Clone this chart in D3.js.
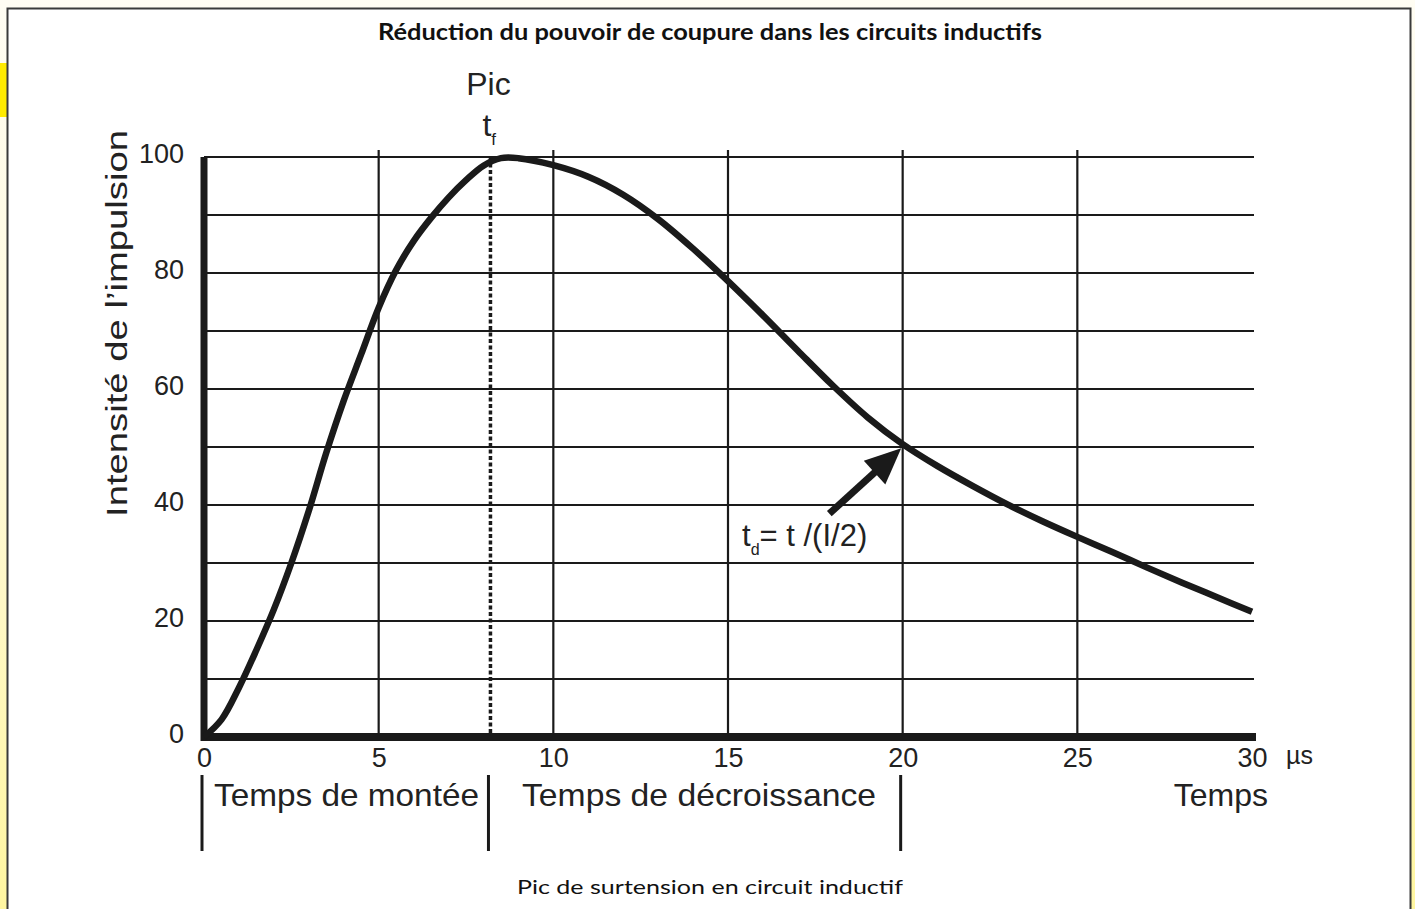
<!DOCTYPE html>
<html><head><meta charset="utf-8">
<script src="https://cdn.jsdelivr.net/npm/d3@7"></script>
<style>html,body{margin:0;padding:0;background:#fff;}svg{display:block;}</style>
</head><body>
<svg id="c" width="1415" height="909"></svg>
<script>
const tValues = [0, 0.5, 1, 1.5, 2, 2.5, 3, 3.5, 4, 4.5, 5, 5.5, 6, 6.5, 7, 7.5, 8, 8.5, 9, 10, 11, 12, 13, 14, 15, 16, 17, 18, 19, 20, 21, 22, 23, 24, 25, 26, 27, 28, 29, 30];
const intensity = [0, 3, 8.5, 15, 22, 30, 39, 49, 58, 66, 74, 80.5, 85.5, 89.5, 93, 96, 98.5, 99.8, 99.8, 98.6, 96.6, 93.5, 89.3, 84.2, 78.6, 72.7, 66.6, 60.6, 55.1, 50.5, 46.7, 43.3, 40.1, 37.2, 34.5, 31.9, 29.2, 26.6, 24.1, 21.6];
const xTicks = [0, 5, 10, 15, 20, 25, 30];
const yTicks = [0, 20, 40, 60, 80, 100];
const yGrid = [10, 20, 30, 40, 50, 60, 70, 80, 90, 100];
const xGrid = [5, 10, 15, 20, 25];
const peakT = 8.2;
const halfT = 20, halfI = 50;
const arrowTail = [17.9, 38.5];
const phaseBounds = [0, 8.2, 20];
const phaseLabels = ["Temps de montée", "Temps de décroissance"];
const title = "Réduction du pouvoir de coupure dans les circuits inductifs";
const caption = "Pic de surtension en circuit inductif";
const yLabel = "Intensité de l’impulsion";

const svg = d3.select("#c");
const F = "'Liberation Sans', Arial, sans-serif";
const x = d3.scaleLinear().domain([0, 30]).range([204, 1252]);
const y = d3.scaleLinear().domain([0, 100]).range([737, 157]);

// background
const defs = svg.append("defs");
const g = defs.append("linearGradient").attr("id","bg").attr("x1",0).attr("y1",0).attr("x2",0).attr("y2",1);
g.append("stop").attr("offset","0").attr("stop-color","#fffdf3");
g.append("stop").attr("offset","0.5").attr("stop-color","#fff9d8");
g.append("stop").attr("offset","1").attr("stop-color","#fff6a0");
svg.append("rect").attr("width",1415).attr("height",909).attr("fill","url(#bg)");
svg.append("rect").attr("x",0).attr("y",63).attr("width",7).attr("height",54).attr("fill","#ffeb00");
svg.append("rect").attr("x",7.5).attr("y",8.5).attr("width",1403).attr("height",940)
  .attr("fill","#fff").attr("stroke","#3a3a3a").attr("stroke-width",2);

// title & caption
svg.append("text").attr("x",710).attr("y",40).attr("text-anchor","middle")
  .attr("font-family","Lato, 'Open Sans', sans-serif").attr("font-weight","bold").attr("font-size",22)
  .attr("textLength",664).attr("lengthAdjust","spacingAndGlyphs").attr("fill","#111").text(title);
svg.append("text").attr("x",710).attr("y",894).attr("text-anchor","middle")
  .attr("font-family","Lato, 'Open Sans', sans-serif").attr("font-size",19)
  .attr("textLength",386).attr("lengthAdjust","spacingAndGlyphs").attr("fill","#111").text(caption);

// grid
svg.append("g").selectAll("line").data(yGrid).join("line")
  .attr("x1", x(0)).attr("x2", x(30)+2).attr("y1", d=>y(d)).attr("y2", d=>y(d))
  .attr("stroke","#1a1a1a").attr("stroke-width",2.2);
svg.append("g").selectAll("line").data(xGrid).join("line")
  .attr("x1", d=>x(d)).attr("x2", d=>x(d)).attr("y1", y(100)-7).attr("y2", y(0))
  .attr("stroke","#1a1a1a").attr("stroke-width",2.2);

// peak dashed line
svg.append("line").attr("x1",x(peakT)).attr("x2",x(peakT)).attr("y1",y(100)).attr("y2",y(0))
  .attr("stroke","#1a1a1a").attr("stroke-width",3.5).attr("stroke-dasharray","4,2.5");

// axes thick lines
svg.append("line").attr("x1",x(0)).attr("x2",x(0)).attr("y1",y(100)).attr("y2",y(0)+4)
  .attr("stroke","#1a1a1a").attr("stroke-width",7);
svg.append("line").attr("x1",x(0)-3).attr("x2",x(30)+4).attr("y1",y(0)).attr("y2",y(0))
  .attr("stroke","#1a1a1a").attr("stroke-width",8);

// axis labels via d3 axes
const ay = svg.append("g").attr("transform",`translate(${x(0)},0)`)
  .call(d3.axisLeft(y).tickValues(yTicks).tickSize(0).tickPadding(20));
ay.select(".domain").remove();
ay.selectAll("text").attr("font-family",F).attr("font-size",27).attr("fill","#222").attr("dy","0.2em");
const ax = svg.append("g").attr("transform",`translate(0,${y(0)})`)
  .call(d3.axisBottom(x).tickValues(xTicks).tickSize(0).tickPadding(11));
ax.select(".domain").remove();
ax.selectAll("text").attr("font-family",F).attr("font-size",27).attr("fill","#222");
svg.append("text").attr("x",x(30)+34).attr("y",764).attr("font-family",F).attr("font-size",25)
  .attr("fill","#222").text("µs");

// y label
svg.append("text").attr("transform",`translate(127,${(130+517)/2}) rotate(-90)`)
  .attr("text-anchor","middle").attr("font-family",F).attr("font-size",30)
  .attr("textLength",387).attr("lengthAdjust","spacingAndGlyphs").attr("fill","#222").text(yLabel);

// curve
const line = d3.line().x((d,i)=>x(tValues[i])).y(d=>y(d)).curve(d3.curveCatmullRom.alpha(0.5));
svg.append("path").datum(intensity).attr("d",line).attr("fill","none")
  .attr("stroke","#1a1a1a").attr("stroke-width",6.5).attr("stroke-linejoin","round");

// Pic / t_f
svg.append("text").attr("x",x(peakT)-2).attr("y",95).attr("text-anchor","middle")
  .attr("font-family",F).attr("font-size",32).attr("fill","#222").text("Pic");
const tf = svg.append("text").attr("x",x(peakT)-8).attr("y",136).attr("text-anchor","start")
  .attr("font-family",F).attr("font-size",32).attr("fill","#222");
tf.append("tspan").text("t");
tf.append("tspan").attr("font-size",17).attr("dy",9).text("f");

// arrow
const hx = x(halfT), hy = y(halfI), tx = x(arrowTail[0]), ty = y(arrowTail[1]);
const ang = Math.atan2(hy-ty, hx-tx);
const headLen = 38, headW = 16;
const bx = hx - headLen*Math.cos(ang), by = hy - headLen*Math.sin(ang);
svg.append("line").attr("x1",tx).attr("y1",ty).attr("x2",bx+4*Math.cos(ang)).attr("y2",by+4*Math.sin(ang))
  .attr("stroke","#1a1a1a").attr("stroke-width",7);
svg.append("path").attr("d",`M${hx-2*Math.cos(ang)},${hy-2*Math.sin(ang)} L${bx - headW*Math.sin(ang)},${by + headW*Math.cos(ang)} L${bx + headW*Math.sin(ang)},${by - headW*Math.cos(ang)} Z`)
  .attr("fill","#1a1a1a");
const td = svg.append("text").attr("x",742).attr("y",546).attr("font-family",F).attr("font-size",31).attr("fill","#222");
td.append("tspan").text("t");
td.append("tspan").attr("font-size",16).attr("dy",9).text("d");
td.append("tspan").attr("dy",-9).text("= t /(I/2)");

// phase separators & labels
svg.append("g").selectAll("line").data(phaseBounds).join("line")
  .attr("x1",d=>x(d)-2).attr("x2",d=>x(d)-2).attr("y1",775).attr("y2",851)
  .attr("stroke","#1a1a1a").attr("stroke-width",3);
svg.append("text").attr("x",214).attr("y",806).attr("font-family",F).attr("font-size",32)
  .attr("textLength",265).attr("lengthAdjust","spacingAndGlyphs").attr("fill","#222").text(phaseLabels[0]);
svg.append("text").attr("x",522).attr("y",806).attr("font-family",F).attr("font-size",32)
  .attr("textLength",354).attr("lengthAdjust","spacingAndGlyphs").attr("fill","#222").text(phaseLabels[1]);
svg.append("text").attr("x",1268).attr("y",806).attr("text-anchor","end").attr("font-family",F).attr("font-size",32)
  .attr("fill","#222").text("Temps");
</script>
</body></html>
